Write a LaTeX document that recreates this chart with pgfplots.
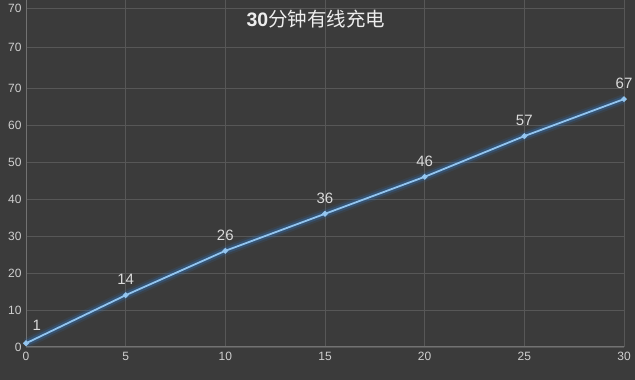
\documentclass[border=0pt]{standalone}
\usepackage{pgfplots}
\pgfplotsset{compat=1.18}
\usepackage{fontspec}
\setmainfont{Liberation Sans}
\newfontfamily\cjk{Noto Sans CJK SC}
\definecolor{bg}{HTML}{3B3B3B}
\definecolor{gridc}{HTML}{575757}
\definecolor{axc}{HTML}{727272}
\definecolor{tickc}{HTML}{CFCFCF}
\definecolor{labc}{HTML}{DADADA}
\definecolor{linec}{HTML}{92C4EE}
\definecolor{glowc}{HTML}{2E78C8}
\definecolor{markc}{HTML}{DDEEFF}
\begin{document}
\begin{tikzpicture}[x=1pt,y=1pt]
\path[use as bounding box, clip] (0,0) rectangle (635,380);
\fill[bg] (0,0) rectangle (635,380);
\begin{axis}[at={(26pt,33pt)}, anchor=south west, scale only axis,
  width=598pt, height=347.8pt,
  xmin=0, xmax=30, ymin=0, ymax=94,
  xtick={0,5,...,30},
  ytick={0,10,20,30,40,50,60,70,81,91.6},
  yticklabels={0,10,20,30,40,50,60,70,70,70},
  grid=major, major grid style={gridc, line width=0.9pt},
  axis lines*=left, axis line style={axc, line width=1pt},
  tick style={draw=none},
  tick label style={tickc, font=\fontsize{12}{14}\selectfont},
  /pgf/number format/assume math mode=true,
  yticklabel style={xshift=-1pt},
  xticklabel style={yshift=-2pt},
  clip=false]
\addplot[glowc, line width=10pt, opacity=0.12] coordinates {(0,1) (5,14) (10,26) (15,36) (20,46) (25,57) (30,67)};
\addplot[glowc, line width=6pt, opacity=0.3] coordinates {(0,1) (5,14) (10,26) (15,36) (20,46) (25,57) (30,67)};
\addplot[linec, line width=1.8pt, mark=*, mark size=1.8pt, mark options={fill=markc, draw=none}] coordinates {(0,1) (5,14) (10,26) (15,36) (20,46) (25,57) (30,67)};
\addplot[draw=none, nodes near coords, point meta=explicit symbolic,
  every node near coord/.append style={anchor=south, yshift=7pt, labc, font=\fontsize{15}{17}\selectfont}]
  coordinates {(5,14) [14] (10,26) [26] (15,36) [36] (20,46) [46] (25,57) [57] (30,67) [67]};
\addplot[draw=none, nodes near coords, point meta=explicit symbolic,
  every node near coord/.append style={anchor=south west, xshift=3pt, yshift=9pt, labc, font=\fontsize{15}{17}\selectfont}]
  coordinates {(0,1) [1]};
\end{axis}
\node[color=white!93!black] at (316,361) {\fontsize{19.5}{22}\selectfont\textbf{30}\cjk 分钟有线充电};
\end{tikzpicture}
\end{document}
